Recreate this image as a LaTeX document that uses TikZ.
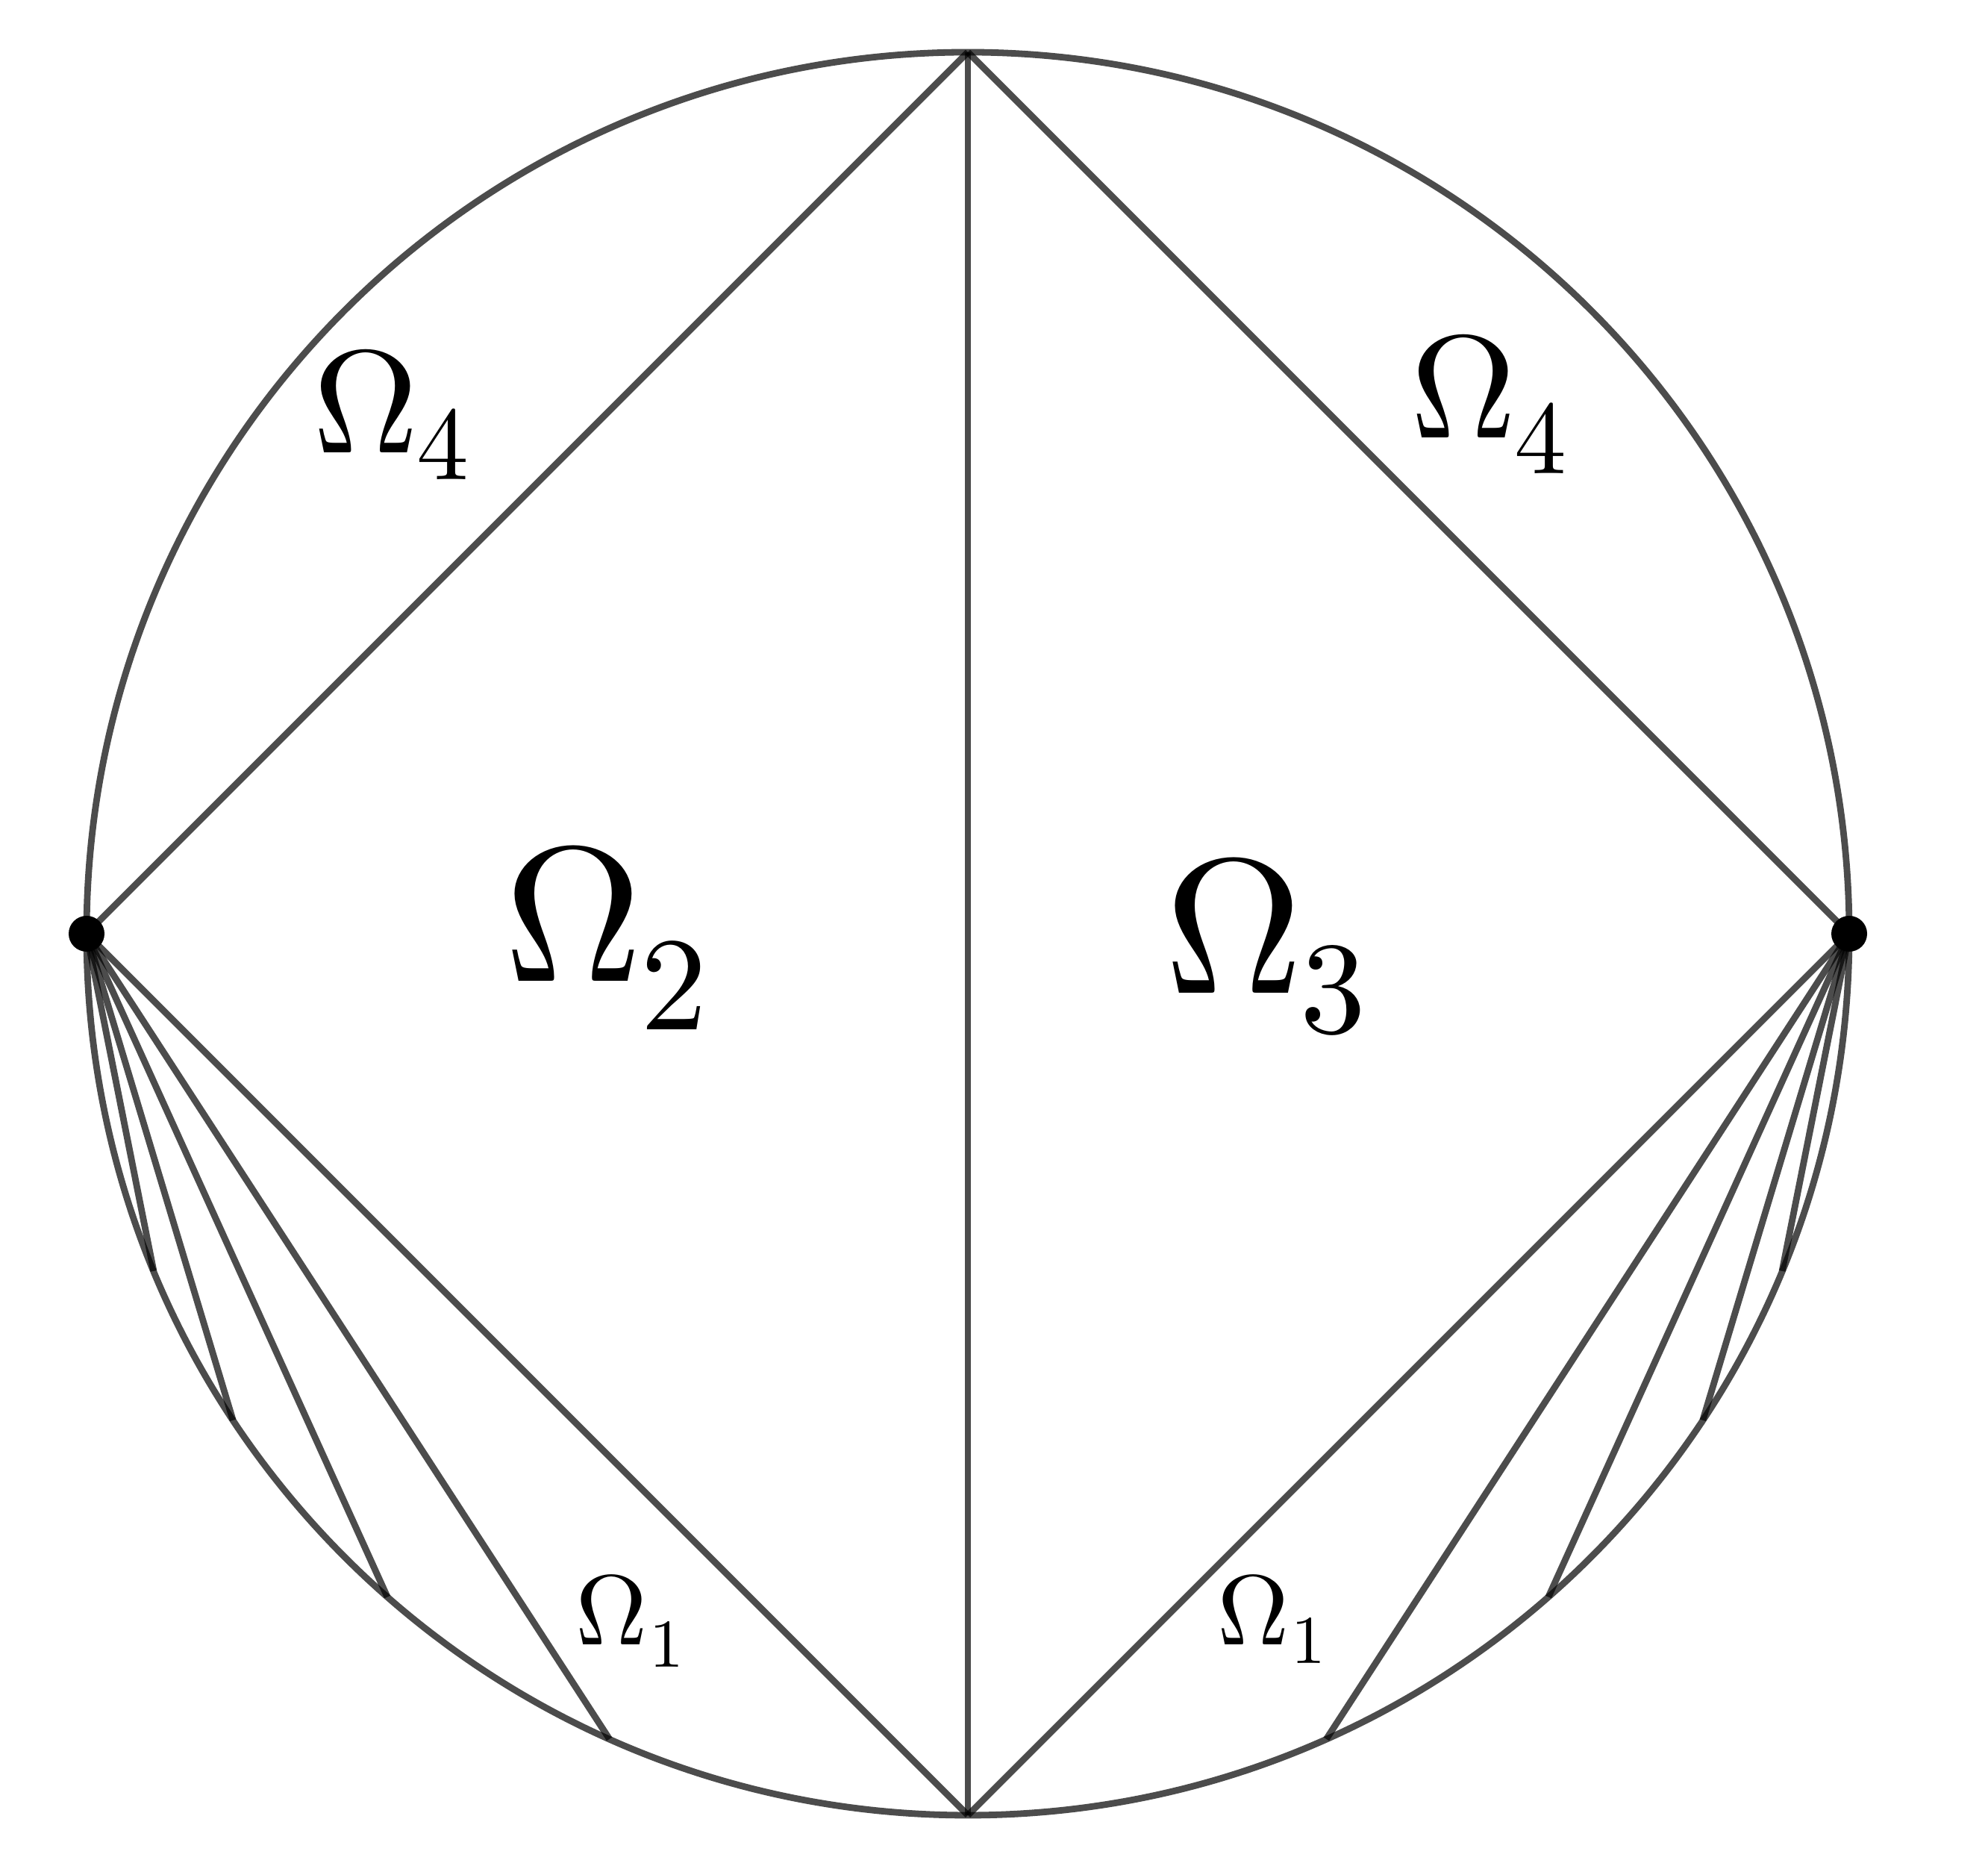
\documentclass[tikz,border=0pt]{standalone}
\usetikzlibrary{calc}
\begin{document}
\begin{tikzpicture}[
  edge/.style={draw=black, draw opacity=0.7, line width=0.088cm},
  dotmark/.style={circle, fill=black, inner sep=0pt, minimum size=0.48cm},
  lbl/.style={inner sep=0pt, anchor=base}
]
\useasboundingbox (0,0) rectangle (26.64,25.04);
\coordinate (O) at (12.97,12.53);
\def\rad{11.81}
\coordinate (L) at ($(O)+(180:\rad)$);
\coordinate (R) at ($(O)+(0:\rad)$);
\coordinate (T) at ($(O)+(90:\rad)$);
\coordinate (B) at ($(O)+(270:\rad)$);
\coordinate (l1) at ($(O)+(202.5:\rad)$);
\coordinate (l2) at ($(O)+(213.5:\rad)$);
\coordinate (l3) at ($(O)+(228.8:\rad)$);
\coordinate (l4) at ($(O)+(246:\rad)$);
\coordinate (r1) at ($(O)+(337.5:\rad)$);
\coordinate (r2) at ($(O)+(326.5:\rad)$);
\coordinate (r3) at ($(O)+(311.2:\rad)$);
\coordinate (r4) at ($(O)+(294:\rad)$);
\draw[edge] (O) circle (\rad);
\draw[edge] (L) -- (T);
\draw[edge] (T) -- (R);
\draw[edge] (T) -- (B);
\draw[edge] (L) -- (B);
\draw[edge] (R) -- (B);
\foreach \p in {l1,l2,l3,l4} {\draw[edge] (L) -- (\p);}
\foreach \p in {r1,r2,r3,r4} {\draw[edge] (R) -- (\p);}
\node[dotmark] (dl) at (L) {};
\node[dotmark] (dr) at (R) {};
% Omega_2
\node[lbl] (om2) at (7.685,11.89) {\scalebox{7.33}{$\Omega$}};
\node[lbl] (sub2) at (9.03,11.24) {\scalebox{5.08}{$2$}};
% Omega_3
\node[lbl] (om3) at (16.54,11.73) {\scalebox{7.33}{$\Omega$}};
\node[lbl] (sub3) at (17.865,11.20) {\scalebox{5.0}{$3$}};
% Omega_4 (left)
\node[lbl] (om4a) at (4.90,18.97) {\scalebox{5.58}{$\Omega$}};
\node[lbl] (sub4a) at (5.93,18.61) {\scalebox{3.98}{$4$}};
% Omega_4 (right)
\node[lbl] (om4b) at (19.615,19.17) {\scalebox{5.58}{$\Omega$}};
\node[lbl] (sub4b) at (20.64,18.69) {\scalebox{3.98}{$4$}};
% Omega_1 (left)
\node[lbl] (om1a) at (8.195,3.00) {\scalebox{3.79}{$\Omega$}};
\node[lbl] (sub1a) at (8.935,2.70) {\scalebox{2.61}{$1$}};
% Omega_1 (right)
\node[lbl] (om1b) at (16.795,3.00) {\scalebox{3.79}{$\Omega$}};
\node[lbl] (sub1b) at (17.535,2.75) {\scalebox{2.61}{$1$}};
\end{tikzpicture}
\end{document}
